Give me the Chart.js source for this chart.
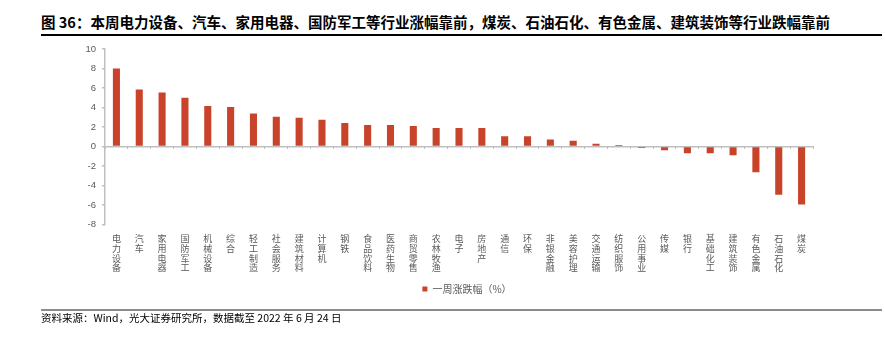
<!DOCTYPE html>
<html>
<head>
<meta charset="utf-8">
<script src="https://cdn.jsdelivr.net/npm/chart.js@4/dist/chart.umd.min.js"></script>
<style>
    body { margin: 0; background: #fff; width: 885px; height: 340px; overflow: hidden; position: relative; }
    .title { position: absolute; left: 41px; top: 13px; font: bold 14.5px/18px 'Noto Sans CJK SC', sans-serif; color: #000; white-space: nowrap; }
    .title-rule { position: absolute; left: 41px; top: 34px; width: 841px; height: 1.5px; background: #000; }
    .foot-rule { position: absolute; left: 41px; top: 309px; width: 841px; height: 2px; background: #8c8c8c; }
    .source { position: absolute; left: 41px; top: 311px; font: 10.5px/14px 'Noto Sans CJK SC', sans-serif; color: #000; white-space: nowrap; }
    .wrap { position: absolute; left: 49px; top: 0; width: 836px; height: 340px; }
</style>
</head>
<body>
<div class="title">图 36：本周电力设备、汽车、家用电器、国防军工等行业涨幅靠前，煤炭、石油石化、有色金属、建筑装饰等行业跌幅靠前</div>
<div class="title-rule"></div>
<div class="wrap"><canvas id="chart"></canvas></div>
<div class="foot-rule"></div>
<div class="source">资料来源：Wind，光大证券研究所，数据截至 2022 年 6 月 24 日</div>

<script>
// Data
const industries = [
    '电力设备', '汽车', '家用电器', '国防军工', '机械设备', '综合', '轻工制造', '社会服务',
    '建筑材料', '计算机', '钢铁', '食品饮料', '医药生物', '商贸零售', '农林牧渔', '电子',
    '房地产', '通信', '环保', '非银金融', '美容护理', '交通运输', '纺织服饰', '公用事业',
    '传媒', '银行', '基础化工', '建筑装饰', '有色金属', '石油石化', '煤炭'
];
const weeklyChange = [
    8.0, 5.85, 5.53, 5.0, 4.14, 4.04, 3.37, 3.06,
    2.95, 2.75, 2.4, 2.19, 2.19, 2.09, 1.88, 1.88,
    1.88, 1.04, 1.04, 0.7, 0.59, 0.28, 0.15, -0.17,
    -0.38, -0.7, -0.7, -0.9, -2.65, -4.97, -5.95
];
const seriesName = '一周涨跌幅（%）';
const yMin = -8, yMax = 10, yStep = 2;

const AXIS_GREY = '#bfbfbf';
const TEXT_GREY = '#595959';
const BAR_RED = '#c9432a';

// vertical labels: one character per line
const verticalLabels = industries.map(name => name.split(''));

new Chart(document.getElementById('chart'), {
    type: 'bar',
    data: {
        labels: verticalLabels,
        datasets: [{
            label: seriesName,
            data: weeklyChange,
            backgroundColor: BAR_RED,
            borderWidth: 0,
            categoryPercentage: 1,
            barPercentage: 0.31
        }]
    },
    options: {
        responsive: true,
        maintainAspectRatio: false,
        animation: false,
        layout: { padding: { top: 49, bottom: 36, left: 0, right: 0 } },
        scales: {
            x: {
                position: 'bottom',
                offset: true,
                grid: { display: false, drawTicks: false },
                border: { display: false },
                ticks: {
                    autoSkip: false,
                    maxRotation: 0,
                    minRotation: 0,
                    padding: 9,
                    color: TEXT_GREY,
                    font: { family: "'Noto Sans CJK SC', sans-serif", size: 9, lineHeight: 1.1 }
                },
                afterFit: s => { s.height = 55.6; }
            },
            xZero: {
                type: 'category',
                position: { y: 0 },
                offset: true,
                grid: { offset: true, drawOnChartArea: false, drawTicks: true, tickLength: 3, color: AXIS_GREY },
                border: { display: false },
                ticks: { display: false }
            },
            y: {
                min: yMin,
                max: yMax,
                ticks: {
                    stepSize: yStep,
                    padding: 6,
                    color: TEXT_GREY,
                    font: { family: "'Liberation Sans', Arial, sans-serif", size: 9.5 }
                },
                grid: {
                    drawOnChartArea: true,
                    drawTicks: true,
                    tickLength: 3,
                    tickColor: AXIS_GREY,
                    lineWidth: 1.5,
                    color: ctx => (ctx.tick && ctx.tick.value === 0 ? AXIS_GREY : 'rgba(0,0,0,0)')
                },
                border: { display: true, color: AXIS_GREY, width: 1.5 },
                afterFit: s => { s.width = 56; }
            },
            yRight: {
                type: 'linear',
                position: 'right',
                grid: { display: false, drawTicks: false },
                border: { display: false },
                ticks: { display: false },
                afterFit: s => { s.width = 72; }
            }
        },
        plugins: {
            legend: {
                position: 'bottom',
                labels: {
                    boxWidth: 5,
                    boxHeight: 5,
                    padding: 4,
                    color: TEXT_GREY,
                    font: { family: "'Noto Sans CJK SC', sans-serif", size: 10 }
                }
            },
            tooltip: { enabled: false }
        }
    }
});
</script>
</body>
</html>
